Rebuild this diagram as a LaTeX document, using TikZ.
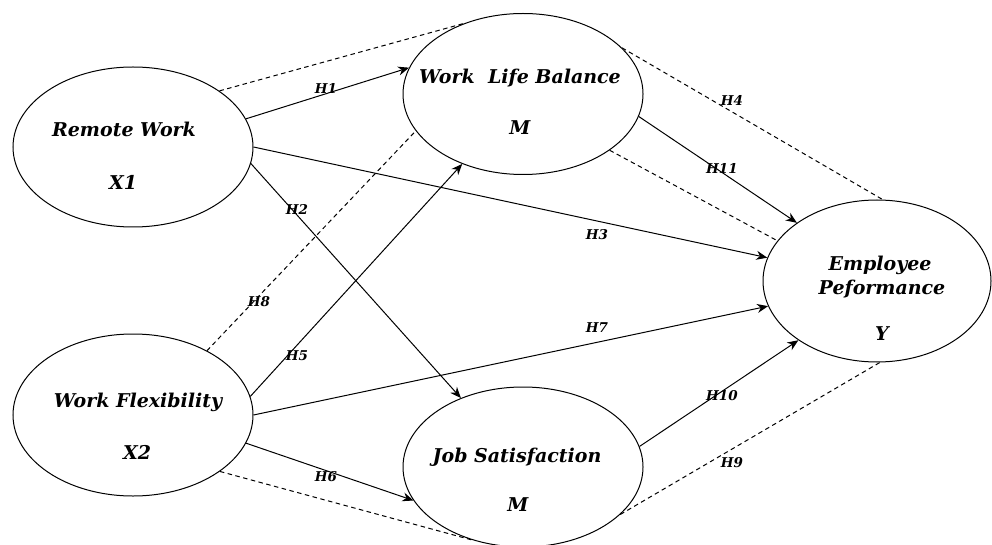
\documentclass[tikz,border=0pt]{standalone}
\usepackage{fontspec}
\setmainfont{DejaVu Serif}
\usetikzlibrary{shapes.geometric,arrows.meta}
\begin{document}
\begin{tikzpicture}[x=1pt,y=-1pt,
 latent/.style={ellipse,draw,line width=1pt,inner sep=0pt},
 lbl/.style={font=\fontsize{19}{22}\selectfont\bfseries\itshape,anchor=base,inner sep=0pt},
 hyp/.style={font=\fontsize{13.5}{15}\selectfont\bfseries\itshape,inner sep=0pt},
 arr/.style={line width=1pt,-{Stealth[length=11pt,width=9pt]}},
 dpath/.style={line width=1pt,dash pattern=on 4.5pt off 3.5pt}]
\useasboundingbox (0,0) rectangle (992,545);
% latent variables
\node[latent,minimum width=240pt,minimum height=160pt] (rw) at (133,147) {};
\node[latent,minimum width=240pt,minimum height=162pt] (wf) at (133,415) {};
\node[latent,minimum width=240pt,minimum height=161pt] (wlb) at (523,94) {};
\node[latent,minimum width=240pt,minimum height=160pt] (js) at (523,467) {};
\node[latent,minimum width=228pt,minimum height=162pt] (ep) at (877,281) {};
% texts
\node[lbl] (rwt) at (124,137) {Remote Work};
\node[lbl] (rwx) at (123,190) {X1};
\node[lbl] (wft) at (138,407) {Work Flexibility};
\node[lbl] (wfx) at (137,459) {X2};
\node[lbl] (wlbt) at (520,84) {Work\ \ Life Balance};
\node[lbl] (wlbm) at (520,135) {M};
\node[lbl] (jst) at (517,462) {Job Satisfaction};
\node[lbl] (jsm) at (518,511) {M};
\node[lbl] (ept1) at (880,270) {Employee};
\node[lbl] (ept2) at (882,294) {Peformance};
\node[lbl] (epy) at (882,340) {Y};
% direct paths
\draw[arr] (rw.14.3) -- (wlb.167.3);
\draw[arr] (rw.-8.7) -- (js.132.3);
\draw[arr] (rw.0) -- (ep.168.1);
\draw[arr] (wf.9.1) -- (wlb.-131.6);
\draw[arr] (wf.-14.5) -- (js.-163.4);
\draw[arr] (wf.0) -- (ep.-167.1);
\draw[arr] (js.10.8) -- (ep.-143.6);
\draw[arr] (wlb.-11.3) -- (ep.144.1);
% mediation (dashed)
\draw[dpath] (rw.33.7) -- (wlb.130.7);
\draw[dpath] (wlb.25.4) -- (ep.86.5);
\draw[dpath] (wf.41.8) -- (wlb.-161.6);
\draw[dpath] (wlb.-33.4) -- (ep.158.5);
\draw[dpath] (wf.-33.7) -- (js.-124.5);
\draw[dpath] (js.-26.3) -- (ep.-88);
% hypothesis labels
\node[hyp] (h1) at (326,88) {H1};
\node[hyp] (h2) at (297,209) {H2};
\node[hyp] (h3) at (597,235) {H3};
\node[hyp] (h4) at (732,100) {H4};
\node[hyp] (h5) at (297,356) {H5};
\node[hyp] (h6) at (326,477) {H6};
\node[hyp] (h7) at (597,328) {H7};
\node[hyp] (h8) at (259,302) {H8};
\node[hyp] (h9) at (732,463) {H9};
\node[hyp] (h10) at (722,396) {H10};
\node[hyp] (h11) at (722,168) {H11};
\end{tikzpicture}
\end{document}
